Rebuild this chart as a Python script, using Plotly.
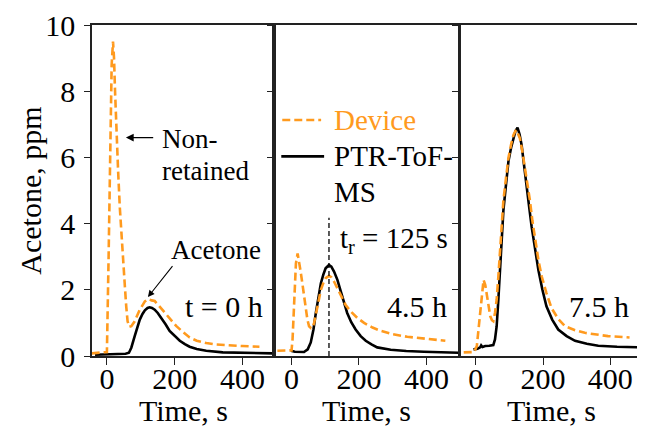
import plotly.graph_objects as go

# ---------------- data ----------------
# Panel 1: t = 0 h
p1_dev_t = [-45, -5, 0, 5, 10, 14, 18, 21, 24, 28, 33, 38, 43, 48, 53, 57, 61, 66, 72, 82, 97, 112, 122, 132, 141, 155, 175, 190, 205, 225, 244, 265, 293, 320, 342, 400, 450]
p1_dev_v = [0.08, 0.1, 0.12, 3.0, 6.5, 8.8, 9.5, 9.0, 8.0, 6.8, 5.6, 4.5, 3.6, 2.8, 2.1, 1.5, 1.05, 0.88, 0.9, 1.05, 1.4, 1.65, 1.72, 1.68, 1.66, 1.5, 1.25, 1.07, 0.9, 0.72, 0.56, 0.46, 0.39, 0.35, 0.33, 0.3, 0.28]
p1_ptr_t = [-35, 0, 30, 55, 65, 72, 82, 90, 97, 105, 112, 120, 126, 133, 141, 150, 161, 173, 185, 200, 215, 230, 244, 265, 293, 342, 400, 490]
p1_ptr_v = [0.04, 0.05, 0.06, 0.07, 0.1, 0.25, 0.6, 0.88, 1.1, 1.27, 1.38, 1.45, 1.47, 1.45, 1.4, 1.3, 1.15, 0.96, 0.76, 0.6, 0.46, 0.36, 0.28, 0.21, 0.16, 0.11, 0.09, 0.08]

# Panel 2: 4.5 h
p2_dev_t = [-42, 0, 3, 8, 13, 18, 22, 27, 32, 37, 42, 47, 52, 58, 62, 67, 72, 80, 87, 94, 101, 111, 118, 126, 136, 146, 160, 175, 195, 215, 240, 264, 300, 343, 400, 456]
p2_dev_v = [0.16, 0.17, 0.5, 1.8, 2.8, 3.1, 2.9, 2.55, 2.2, 1.8, 1.4, 1.1, 0.9, 0.84, 0.86, 1.0, 1.25, 1.65, 2.0, 2.2, 2.35, 2.42, 2.38, 2.25, 2.05, 1.8, 1.55, 1.35, 1.15, 1.0, 0.86, 0.76, 0.66, 0.58, 0.52, 0.46]
p2_ptr_t = [-2, 10, 37, 48, 57, 65, 72, 80, 87, 94, 101, 111, 118, 126, 136, 146, 155, 165, 177, 190, 205, 220, 237, 254, 294, 340, 392, 495]
p2_ptr_v = [0.16, 0.13, 0.12, 0.2, 0.41, 0.8, 1.3, 1.8, 2.2, 2.45, 2.65, 2.75, 2.7, 2.55, 2.3, 1.95, 1.62, 1.3, 1.02, 0.8, 0.6, 0.46, 0.35, 0.26, 0.19, 0.15, 0.13, 0.1]

# Panel 3: 7.5 h
p3_dev_t = [-36, -5, 3, 8, 13, 18, 23, 28, 33, 38, 43, 48, 52, 57, 62, 67, 72, 77, 82, 90, 97, 105, 112, 118, 122, 126, 131, 138, 146, 153, 161, 168, 176, 186, 196, 210, 225, 245, 265, 295, 324, 360, 393, 457]
p3_dev_v = [0.11, 0.12, 0.3, 0.8, 1.3, 1.9, 2.3, 2.15, 1.8, 1.45, 1.2, 1.08, 1.05, 1.3, 1.7, 2.4, 3.2, 3.95, 4.7, 5.4, 5.98, 6.4, 6.68, 6.8, 6.83, 6.7, 6.58, 6.2, 5.68, 5.2, 4.69, 4.1, 3.5, 2.9, 2.4, 1.9, 1.45, 1.12, 0.9, 0.78, 0.7, 0.64, 0.6, 0.56]
p3_ptr_t = [-7, 5, 13, 16, 20, 28, 40, 52, 57, 62, 67, 72, 77, 82, 90, 97, 105, 112, 118, 124, 130, 136, 143, 151, 158, 166, 176, 186, 198, 210, 227, 245, 270, 295, 330, 364, 420, 497]
p3_ptr_v = [0.2, 0.22, 0.26, 0.32, 0.27, 0.3, 0.31, 0.33, 0.5, 0.9, 1.7, 2.7, 3.55, 4.4, 5.2, 5.88, 6.3, 6.58, 6.8, 6.9, 6.7, 6.38, 5.85, 5.18, 4.55, 3.9, 3.2, 2.6, 2.0, 1.5, 1.1, 0.8, 0.6, 0.46, 0.37, 0.31, 0.28, 0.26]

x_ticks = [0, 200, 400]
y_ticks = [0, 2, 4, 6, 8, 10]
panel_labels = ["t = 0 h", "4.5 h", "7.5 h"]
series_names = ["Device", "PTR-ToF-", "MS"]
retention_time = 111
retention_label = "t<sub>r</sub> = 125 s"

ORANGE = "#FF9A1E"
FONT = "Liberation Serif"
FS = 30

fig = go.Figure()
panels = [(p1_dev_t, p1_dev_v, p1_ptr_t, p1_ptr_v),
          (p2_dev_t, p2_dev_v, p2_ptr_t, p2_ptr_v),
          (p3_dev_t, p3_dev_v, p3_ptr_t, p3_ptr_v)]
for i, (dt, dv, pt, pv) in enumerate(panels):
    xa = "x" if i == 0 else f"x{i+1}"
    ya = "y" if i == 0 else f"y{i+1}"
    fig.add_trace(go.Scatter(x=pt, y=pv, mode="lines", xaxis=xa, yaxis=ya,
                             line=dict(color="black", width=2.6), showlegend=False))
    fig.add_trace(go.Scatter(x=dt, y=dv, mode="lines", xaxis=xa, yaxis=ya,
                             line=dict(color=ORANGE, width=2.6, dash="8px,4px"), showlegend=False))

# page has an 8px body margin: size the figure so that it fits the 645x429 window
OFF = 8
W, H = 645 - OFF, 429 - OFF
ml, mr, mt, mb = 92 - OFF, 0, 22 - OFF, 429 - 356
pw = W - ml - mr
ph = H - mt - mb
doms = [[0, 183 / pw], [183 / pw, 368.5 / pw], [369 / pw, 1]]
ranges = [[-44, 494], [-51, 497], [-48, 497]]

axis_common = dict(showline=True, linecolor="#222", linewidth=1.5, mirror=True,
                   ticks="outside", tickcolor="#222", showgrid=False, zeroline=False,
                   ticklabeloverflow="allow",
                   tickfont=dict(family=FONT, size=FS, color="black"))
layout = dict(width=W, height=H, margin=dict(l=ml, r=mr, t=mt, b=mb),
              plot_bgcolor="white", paper_bgcolor="white", showlegend=False,
              font=dict(family=FONT, size=FS, color="black"))
for i in range(3):
    xk = "xaxis" if i == 0 else f"xaxis{i+1}"
    yk = "yaxis" if i == 0 else f"yaxis{i+1}"
    ya = "y" if i == 0 else f"y{i+1}"
    xa = "x" if i == 0 else f"x{i+1}"
    layout[xk] = dict(axis_common, domain=doms[i], range=ranges[i], tickvals=x_ticks,
                      ticklen=7, anchor=ya, ticklabelstandoff=-12)
    layout[yk] = dict(axis_common, domain=[0, 1], range=[0, 10], tickvals=y_ticks,
                      ticklen=6, anchor=xa, showticklabels=(i == 0), ticklabelstandoff=3)
fig.update_layout(**layout)

ann = []
# axis titles
ann.append(dict(text="Acetone, ppm", xref="paper", yref="paper", x=(30 - OFF - ml) / pw, y=0.5,
                textangle=-90, showarrow=False, xanchor="center", yanchor="middle"))
for i in range(3):
    ann.append(dict(text="Time, s", xref="paper", yref="paper",
                    x=(doms[i][0] + doms[i][1]) / 2, y=-(411 - 356) / ph,
                    showarrow=False, xanchor="center", yanchor="middle"))
# panel labels
label_x = [465, 466, 461]
for i in range(3):
    xa = "x" if i == 0 else f"x{i+1}"
    ya = "y" if i == 0 else f"y{i+1}"
    ann.append(dict(text=panel_labels[i], xref=xa, yref=ya, x=label_x[i], y=1.49,
                    showarrow=False, xanchor="right", yanchor="middle"))
# Non-retained
SMALL = dict(family=FONT, size=27, color="black")
ann.append(dict(text="Non-", xref="x", yref="y", x=156, y=6.57, showarrow=False,
                xanchor="left", yanchor="middle", font=SMALL))
ann.append(dict(text="retained", xref="x", yref="y", x=156, y=5.6, showarrow=False,
                xanchor="left", yanchor="middle", font=SMALL))
ann.append(dict(text="", xref="x", yref="y", x=56, y=6.6, ax=141, ay=6.6,
                axref="x", ayref="y", showarrow=True, arrowhead=2, arrowsize=1.2,
                arrowwidth=1.3, arrowcolor="black", standoff=0, startstandoff=0))
# Acetone
ann.append(dict(text="Acetone", xref="x", yref="y", x=322, y=3.21, showarrow=False,
                xanchor="center", yanchor="middle", font=SMALL))
ann.append(dict(text="", xref="x", yref="y", x=121, y=1.78, ax=197, ay=2.76,
                axref="x", ayref="y", showarrow=True, arrowhead=2, arrowsize=1.2,
                arrowwidth=1.1, arrowcolor="black", standoff=0, startstandoff=0))
# legend (panel 2)
LEG = dict(family=FONT, size=29, color="black")
ann.append(dict(text=series_names[0], xref="x2", yref="y2", x=120, y=7.13, showarrow=False,
                xanchor="left", yanchor="middle", font=dict(LEG, color=ORANGE)))
ann.append(dict(text=series_names[1], xref="x2", yref="y2", x=120, y=6.03, showarrow=False,
                xanchor="left", yanchor="middle", font=LEG))
ann.append(dict(text=series_names[2], xref="x2", yref="y2", x=120, y=4.96, showarrow=False,
                xanchor="left", yanchor="middle", font=LEG))
ann.append(dict(text=retention_label, xref="x2", yref="y2", x=471, y=3.49, showarrow=False,
                xanchor="right", yanchor="middle", font=LEG))
fig.update_layout(annotations=ann)

shapes = [
    dict(type="line", xref="x2", yref="y2", x0=-27.5, x1=87.7, y0=7.13, y1=7.13,
         line=dict(color=ORANGE, width=2.6, dash="8px,4px")),
    dict(type="line", xref="x2", yref="y2", x0=-30.4, x1=96.6, y0=6.03, y1=6.03,
         line=dict(color="black", width=2.6)),
    dict(type="line", xref="x2", yref="y2", x0=retention_time, x1=retention_time, y0=0, y1=4.18,
         line=dict(color="black", width=1.3, dash="5px,3px")),
]
fig.update_layout(shapes=shapes)

fig.write_html("out.html")
